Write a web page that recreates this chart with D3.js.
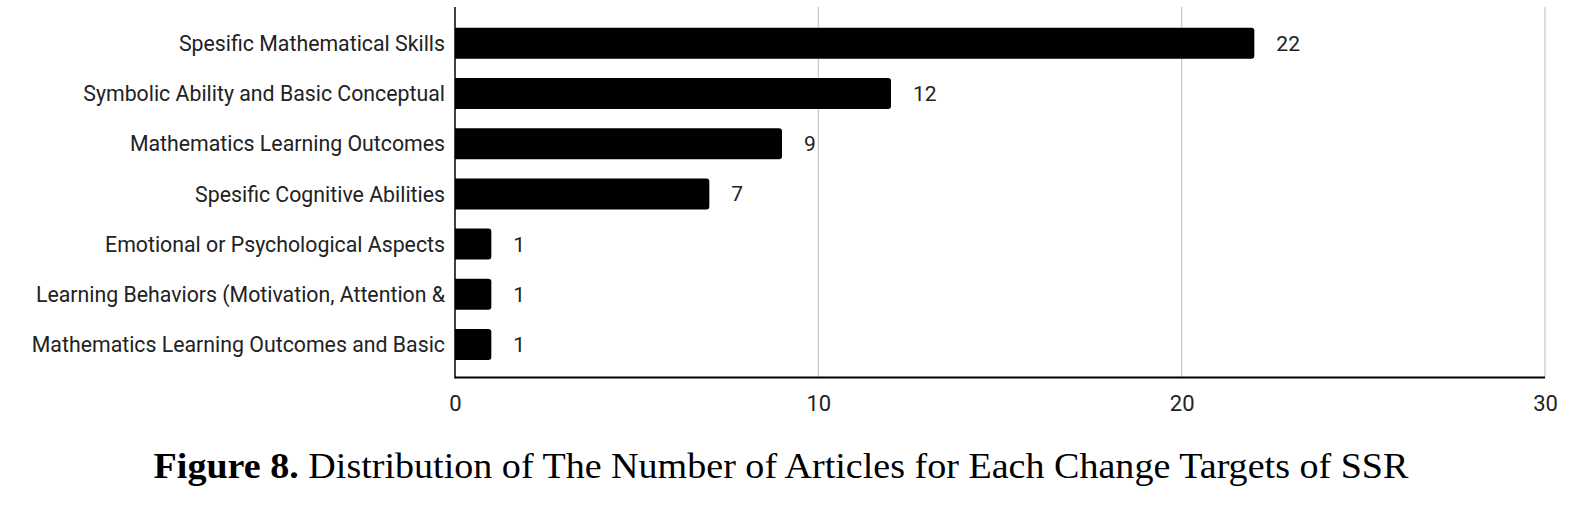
<!DOCTYPE html>
<html><head><meta charset="utf-8">
<script src="https://cdn.jsdelivr.net/npm/d3@7"></script>
<style>body{margin:0;background:#fff}</style>
</head><body>
<svg id="c" width="1580" height="518"></svg>
<script>
const categories = [
  "Spesific Mathematical Skills",
  "Symbolic Ability and Basic Conceptual",
  "Mathematics Learning Outcomes",
  "Spesific Cognitive Abilities",
  "Emotional or Psychological Aspects",
  "Learning Behaviors (Motivation, Attention &",
  "Mathematics Learning Outcomes and Basic"
];
const values = [22, 12, 9, 7, 1, 1, 1];
const xTicks = [0, 10, 20, 30];
const captionBold = "Figure 8.";
const captionRest = " Distribution of The Number of Articles for Each Change Targets of SSR";

(function () {
const svg = d3.select("#c");
const x = d3.scaleLinear().domain([0, 30]).range([455, 1545]);
const y = d3.scaleBand().domain(categories).range([18.2, 369.6]).paddingInner(0.383).paddingOuter(0.1915);
const plotTop = 7, plotBottom = 377.5;

svg.append("g").selectAll("line").data(xTicks.filter(d => d > 0)).join("line")
  .attr("x1", d => x(d)).attr("x2", d => x(d)).attr("y1", plotTop).attr("y2", plotBottom)
  .attr("stroke", "#cccccc").attr("stroke-width", 1.3);

const r = 3;
svg.append("g").selectAll("path").data(values).join("path")
  .attr("d", (d, i) => {
    const x0 = x(0), x1 = x(d), y0 = y(categories[i]), h = y.bandwidth();
    return `M${x0},${y0}H${x1 - r}Q${x1},${y0} ${x1},${y0 + r}V${y0 + h - r}Q${x1},${y0 + h} ${x1 - r},${y0 + h}H${x0}Z`;
  })
  .attr("fill", "#000");

svg.append("g").selectAll("text").data(values).join("text")
  .attr("x", d => x(d) + 22).attr("y", (d, i) => y(categories[i]) + y.bandwidth() / 2)
  .attr("dy", "0.36em")
  .attr("font-family", "Roboto").attr("font-size", 21).attr("fill", "#222")
  .text(d => d);

svg.append("line").attr("x1", x(0)).attr("x2", x(0)).attr("y1", plotTop).attr("y2", plotBottom + 1)
  .attr("stroke", "#000").attr("stroke-width", 1.5);
svg.append("line").attr("x1", x(0)).attr("x2", x(30)).attr("y1", plotBottom).attr("y2", plotBottom)
  .attr("stroke", "#000").attr("stroke-width", 2);

const xAxis = d3.axisBottom(x).tickValues(xTicks).tickSize(0).tickPadding(0).tickFormat(d3.format("d"));
const gx = svg.append("g").attr("transform", `translate(0,${plotBottom})`).call(xAxis);
gx.select(".domain").remove();
gx.selectAll("text").attr("y", 0).attr("dy", 0).attr("transform", "translate(0,33)")
  .attr("font-family", "Roboto").attr("font-size", 22).attr("fill", "#222");

const yAxis = d3.axisLeft(y).tickSize(0).tickPadding(0);
const gy = svg.append("g").attr("transform", `translate(445,0)`).call(yAxis);
gy.select(".domain").remove();
gy.selectAll("text").attr("x", 0).attr("dy", "0.36em")
  .attr("font-family", "Roboto").attr("font-size", 21.3).attr("fill", "#222");

const cap = svg.append("text").attr("text-anchor", "middle")
  .attr("transform", "translate(781,478) scale(1.088,1)")
  .attr("font-family", "Liberation Serif").attr("font-size", 35).attr("fill", "#000");
cap.append("tspan").attr("font-weight", "bold").text(captionBold);
cap.append("tspan").text(captionRest);
})();
</script>
</body></html>
